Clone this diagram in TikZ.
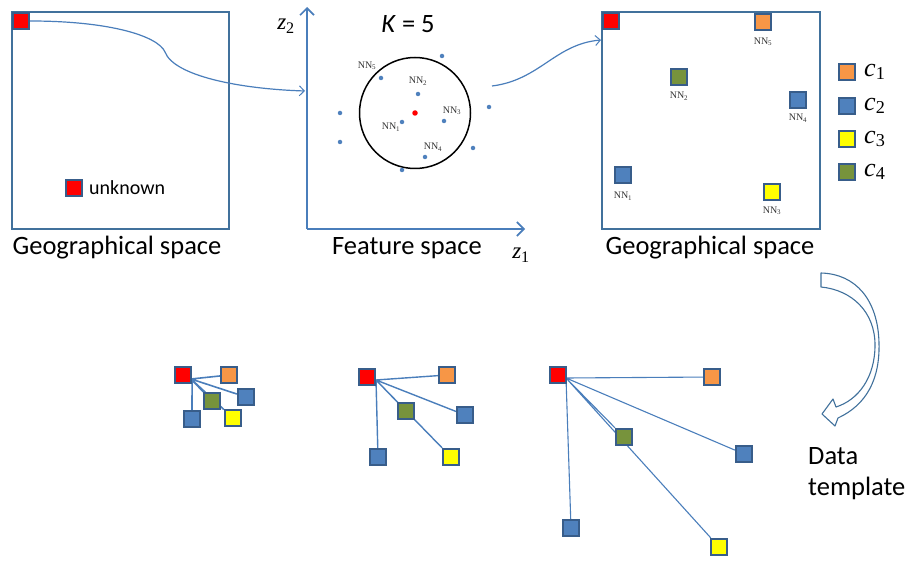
\documentclass[tikz,border=0pt]{standalone}
\usepackage{fontspec}
\setmainfont{Carlito}
\newfontfamily\timesf{Liberation Serif}
\usetikzlibrary{arrows.meta,backgrounds}
\definecolor{sqborder}{HTML}{385D8A}
\definecolor{boxblue}{HTML}{41719C}
\definecolor{linkblue}{HTML}{4A7EBB}
\definecolor{cOrange}{HTML}{F79646}
\definecolor{cBlue}{HTML}{4F81BD}
\definecolor{cYellow}{HTML}{FFFF00}
\definecolor{cGreen}{HTML}{77933C}
\definecolor{cRed}{HTML}{FF0000}
\begin{document}
\begin{tikzpicture}[x=1pt,y=-1pt,
  sq/.style={draw=sqborder,line width=2.2pt,minimum size=16pt,inner sep=0pt,fill=#1},
  spacebox/.style={draw=boxblue,line width=2pt},
  bigtext/.style={font=\fontsize{26.5}{30}\selectfont,inner sep=0pt},
  midtext/.style={font=\fontsize{20}{24}\selectfont,inner sep=0pt},
  nnlabel/.style={font=\timesf\fontsize{10}{12}\selectfont,inner sep=0pt,text=black!80},
  dot/.style={circle,fill=cBlue,inner sep=0pt,minimum size=4.5pt},
  axis/.style={draw=linkblue,line width=2pt,-{Straight Barb[length=7pt,width=14pt,line width=1.6pt]}},
  flow/.style={draw=linkblue,line width=1.2pt,-{Straight Barb[length=5pt,width=10pt,line width=1pt]}},
  link/.style={draw=linkblue,line width=1.2pt},
  mathlbl/.style={font=\timesf\fontsize{23}{26}\selectfont,inner sep=0pt},
  legendlbl/.style={font=\timesf\fontsize{26}{30}\selectfont,inner sep=0pt,anchor=west}]
\useasboundingbox (0,0) rectangle (912,561);

% ---------- left geographical space ----------
\node[spacebox,minimum width=217pt,minimum height=217pt,inner sep=0pt] (gl) at (120.5,120.5) {};
\node[sq=cRed] (tl) at (21,21) {};
\node[sq=cRed] (unk) at (74,188) {};
\node[midtext,anchor=west] (unktxt) at (89,188) {unknown};
\node[bigtext] (gltxt) at (117,248) {Geographical space};

% ---------- feature space ----------
\coordinate (orig) at (307,229);
\coordinate (ytop) at (307,7);
\coordinate (xend) at (525,229);
\draw[axis] (orig) -- (ytop);
\draw[axis] (orig) -- (xend);
\node[mathlbl] (z2) at (286,26) {\textit{z}\textsubscript{2}};
\node[mathlbl] (z1) at (521,255) {\textit{z}\textsubscript{1}};
\node[bigtext] (ktxt) at (408,24) {\textit{K} = 5};
\node[bigtext] (fstxt) at (407,248) {Feature space};
\node[circle,draw=black,line width=1.5pt,minimum size=111pt,inner sep=0pt] (circ) at (415,113) {};
\node[circle,fill=cRed,inner sep=0pt,minimum size=5.5pt] (q) at (415,113) {};
\foreach \px/\py [count=\i] in {442/56,381/78,418/94,489/107,340/113,444/121,402/122,340/142,473/148,425/157,402/170}
  \node[dot] (d\i) at (\px,\py) {};
\node[nnlabel] (fn5) at (367,66) {NN\textsubscript{5}};
\node[nnlabel] (fn2) at (418,81) {NN\textsubscript{2}};
\node[nnlabel] (fn3) at (452,111) {NN\textsubscript{3}};
\node[nnlabel] (fn1) at (391,127) {NN\textsubscript{1}};
\node[nnlabel] (fn4) at (433,147) {NN\textsubscript{4}};

\coordinate (axin) at (305,91);
\draw[flow] (tl.east) .. controls (110,21) and (158,36) .. (165,52)
  .. controls (174,76) and (240,89) .. (axin);

% ---------- right geographical space ----------
\node[spacebox,minimum width=218pt,minimum height=217pt,inner sep=0pt] (gr) at (711,120.5) {};
\node[sq=cRed] (tr) at (611,21) {};
\node[sq=cOrange] (r5) at (763,22) {};
\node[nnlabel] (rn5) at (763,42) {NN\textsubscript{5}};
\node[sq=cGreen] (r2) at (679,77) {};
\node[nnlabel] (rn2) at (679,96) {NN\textsubscript{2}};
\node[sq=cBlue] (r4) at (798,100) {};
\node[nnlabel] (rn4) at (798,118) {NN\textsubscript{4}};
\node[sq=cBlue] (r1) at (623,175) {};
\node[nnlabel] (rn1) at (623,196) {NN\textsubscript{1}};
\node[sq=cYellow] (r3) at (772,192) {};
\node[nnlabel] (rn3) at (772,211) {NN\textsubscript{3}};
\node[bigtext] (grtxt) at (710,248) {Geographical space};

\coordinate (fsout) at (492,86);
\coordinate (grin) at (601,40);
\draw[flow] (fsout) .. controls (540,80) and (555,44) .. (grin);

% legend
\node[sq=cOrange] (l1) at (847,72) {};
\node[sq=cBlue] (l2) at (847,106) {};
\node[sq=cYellow] (l3) at (847,139) {};
\node[sq=cGreen] (l4) at (847,172) {};
\node[legendlbl] (lt1) at (864,72) {\textit{c}\textsubscript{1}};
\node[legendlbl] (lt2) at (864,106) {\textit{c}\textsubscript{2}};
\node[legendlbl] (lt3) at (864,139) {\textit{c}\textsubscript{3}};
\node[legendlbl] (lt4) at (864,172) {\textit{c}\textsubscript{4}};

% ---------- curved block arrow ----------
\draw[draw=boxblue,line width=1.1pt,fill=white,line join=round]
  (821,273) -- (821,287)
  .. controls (852,290) and (875,312) .. (875,345)
  .. controls (875,378) and (858,400) .. (836,407)
  -- (833,399) -- (822,414) -- (835,426) -- (838,418)
  .. controls (866,405) and (880,380) .. (879,343)
  .. controls (878,300) and (856,274) .. (821,273) -- cycle;
\node[bigtext,anchor=west] (dt1) at (808,456) {Data};
\node[bigtext,anchor=west] (dt2) at (808,488) {template};

% ---------- data templates ----------
% group 1
\node[sq=cRed] (a0) at (183,375) {};
\node[sq=cOrange] (a5) at (229,375) {};
\node[sq=cBlue] (a4) at (246,397) {};
\node[sq=cGreen] (a2) at (212,401) {};
\node[sq=cYellow] (a3) at (233,418) {};
\node[sq=cBlue] (a1) at (192,419) {};
\coordinate (ah) at (191,379);
% group 2
\node[sq=cRed] (b0) at (367,377) {};
\node[sq=cOrange] (b5) at (447,375) {};
\node[sq=cBlue] (b4) at (465,415) {};
\node[sq=cGreen] (b2) at (406,411) {};
\node[sq=cYellow] (b3) at (451,457) {};
\node[sq=cBlue] (b1) at (378,457) {};
\coordinate (bh) at (376,380);
% group 3
\node[sq=cRed] (c0) at (558,375) {};
\node[sq=cOrange] (c5) at (712,377) {};
\node[sq=cGreen] (c2) at (624,437) {};
\node[sq=cBlue] (c4) at (744,454) {};
\node[sq=cBlue] (c1) at (571,528) {};
\node[sq=cYellow] (c3) at (719,547) {};
\coordinate (ch) at (566,378);

\begin{pgfonlayer}{background}
  \draw[link,line width=1.6pt] (ah) -- (a5) (ah) -- (a4) (ah) -- (a2) (ah) -- (a3) (a0.east |- ah) -- (a1.north);
  \draw[link,line width=1.4pt] (bh) -- (b5) (bh) -- (b4) (bh) -- (b2) (bh) -- (b3) (bh) -- (b1);
  \draw[link,line width=1.1pt] (ch) -- (c5) (ch) -- (c4) (ch) -- (c2) (ch) -- (c3) (ch) -- (c1);
\end{pgfonlayer}
\end{tikzpicture}
\end{document}
